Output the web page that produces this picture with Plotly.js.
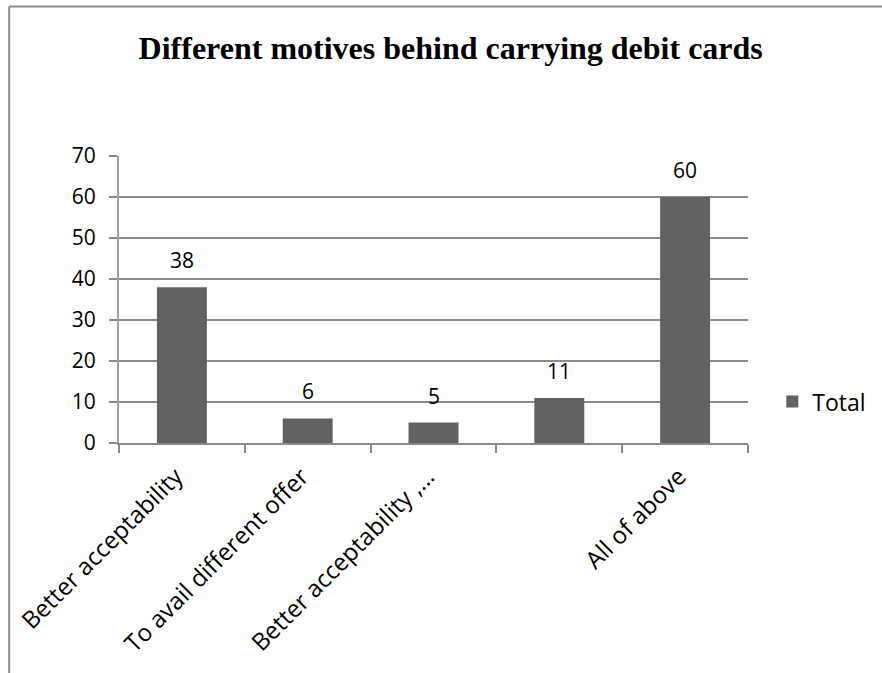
<!DOCTYPE html>
<html>
<head>
<meta charset="utf-8">
<script src="https://cdn.plot.ly/plotly-3.0.1.min.js"></script>
<style>
  html, body { margin: 0; padding: 0; background: #ffffff; }
  #chart { width: 882px; height: 673px; }
</style>
</head>
<body>
<div id="chart"></div>
<script>
// Motives for carrying debit cards (count of respondents)
const categories = [
  "Better acceptability",
  "To avail different offer",
  "Better acceptability ,\u2026",
  " ",
  "All of above"
];
const totals = [38, 6, 5, 11, 60];
const seriesName = "Total";
const yTicks = [0, 10, 20, 30, 40, 50, 60, 70];

const gridGray = "#8a8a8a";
const barGray = "#626262";
const baseFamily = "Open Sans, sans-serif";
const valueFont = { family: baseFamily, size: 21, color: "#000000" };
const catFont = { family: baseFamily, size: 24, color: "#000000" };
const legendFont = { family: baseFamily, size: 23, color: "#000000" };

const trace = {
  type: "bar",
  name: seriesName,
  x: categories,
  y: totals,
  marker: { color: barGray, line: { width: 0 } },
  showlegend: true,
  hoverinfo: "x+y"
};

// value labels sitting above each bar
const valueLabels = categories.map((c, i) => ({
  x: c,
  y: totals[i],
  xref: "x",
  yref: "y",
  text: String(totals[i]),
  showarrow: false,
  yanchor: "bottom",
  yshift: 11,
  font: valueFont
}));

// chart frame: only the top and left edges fall inside the page
const frameColor = "#8c8c8c";
const frame = [
  { type: "line", xref: "paper", yref: "paper",
    x0: -0.1746, x1: 1.25, y0: 1.5205, y1: 1.5205,
    line: { color: frameColor, width: 2 } },
  { type: "line", xref: "paper", yref: "paper",
    x0: -0.1746, x1: -0.1746, y0: -0.85, y1: 1.5205,
    line: { color: frameColor, width: 2 } }
];

const layout = {
  width: 882,
  height: 673,
  paper_bgcolor: "#ffffff",
  plot_bgcolor: "#ffffff",
  margin: { l: 119, r: 133, t: 156, b: 230, pad: 0 },
  title: {
    text: "<b>Different motives behind carrying debit cards</b>",
    font: { family: "Liberation Serif, Times New Roman, serif", size: 32, color: "#000000" },
    x: 0.511,
    xref: "container",
    xanchor: "center",
    y: 0.929,
    yref: "container",
    yanchor: "middle"
  },
  bargap: 0.603,
  xaxis: {
    type: "category",
    categoryorder: "array",
    categoryarray: categories,
    showgrid: false,
    showline: true,
    linecolor: gridGray,
    linewidth: 2,
    ticks: "outside",
    tickson: "boundaries",
    ticklen: 8,
    tickwidth: 2,
    tickcolor: gridGray,
    tickangle: -45,
    tickfont: catFont,
    ticklabelstandoff: 8,
    ticklabelshift: -6,
    zeroline: false,
    fixedrange: true
  },
  yaxis: {
    range: [0, 70],
    tickvals: yTicks,
    ticktext: yTicks.map(String),
    showgrid: true,
    gridcolor: gridGray,
    gridwidth: 2,
    showline: true,
    linecolor: "#a0a0a0",
    linewidth: 2,
    ticks: "outside",
    ticklen: 8,
    tickwidth: 2,
    tickcolor: gridGray,
    tickfont: valueFont,
    ticklabelstandoff: 9,
    zeroline: false,
    fixedrange: true
  },
  legend: {
    x: 1.037,
    xanchor: "left",
    y: 0.144,
    yanchor: "middle",
    font: legendFont,
    bgcolor: "rgba(0,0,0,0)",
    borderwidth: 0
  },
  annotations: valueLabels,
  shapes: frame
};

Plotly.newPlot("chart", [trace], layout, { displayModeBar: false, responsive: false });
</script>
</body>
</html>
